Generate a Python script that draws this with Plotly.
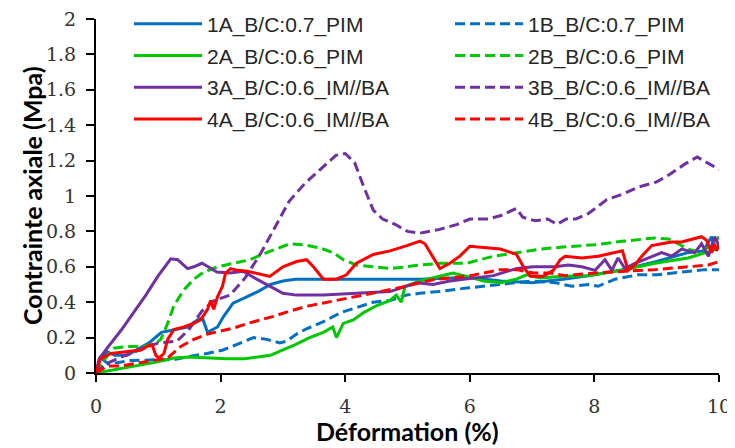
import plotly.graph_objects as go

# ---------------- data ----------------
x_1A = [0, 0.07, 0.18, 0.3, 0.5, 0.7, 0.85, 1.05, 1.25, 1.47, 1.63, 1.71, 1.79, 1.87, 1.95, 2.05, 2.2, 2.42, 2.6, 2.8,
        3.0, 3.2, 3.6, 4.2, 4.7, 5.2, 5.6, 6.0, 6.5, 7.0, 7.5, 7.9, 8.4, 9.0, 9.5, 9.75, 9.88, 9.93, 10.0]
y_1A = [0, 0.09, 0.12, 0.10, 0.10, 0.14, 0.17, 0.23, 0.245, 0.26, 0.30, 0.31, 0.23, 0.245, 0.26, 0.32, 0.395, 0.43, 0.46, 0.50,
        0.52, 0.53, 0.53, 0.527, 0.527, 0.53, 0.535, 0.54, 0.52, 0.51, 0.53, 0.55, 0.58, 0.63, 0.68, 0.69, 0.77, 0.70, 0.72]

x_1B = [0, 0.1, 0.2, 0.55, 0.97, 1.24, 1.5, 1.78, 2.04, 2.31, 2.53, 2.74, 2.95, 3.06, 3.22, 3.38, 3.65, 3.92, 4.18, 4.45,
        4.72, 4.98, 5.2, 5.5, 5.95, 6.5, 7.0, 7.37, 7.64, 7.9, 8.06, 8.33, 8.7, 9.0, 9.25, 9.5, 9.77, 10.0]
y_1B = [0, 0.08, 0.05, 0.07, 0.075, 0.075, 0.094, 0.11, 0.13, 0.17, 0.20, 0.19, 0.17, 0.18, 0.22, 0.25, 0.29, 0.34, 0.37, 0.40,
        0.41, 0.44, 0.45, 0.46, 0.48, 0.50, 0.52, 0.51, 0.49, 0.50, 0.49, 0.53, 0.555, 0.555, 0.565, 0.575, 0.584, 0.584]

x_2A = [0, 0.3, 0.6, 0.95, 1.25, 1.5, 1.84, 2.1, 2.38, 2.64, 2.8, 3.0, 3.2, 3.43, 3.65, 3.8, 3.86, 3.97, 4.13, 4.29,
        4.5, 4.72, 4.82, 4.9, 4.96, 5.05, 5.2, 5.5, 5.73, 5.95, 6.22, 6.5, 6.75, 6.91, 7.13, 7.5, 7.9, 8.44, 8.97, 9.5,
        9.88, 10.0]
y_2A = [0, 0.02, 0.04, 0.06, 0.085, 0.09, 0.085, 0.08, 0.08, 0.09, 0.10, 0.13, 0.16, 0.20, 0.23, 0.26, 0.20, 0.28, 0.30, 0.34,
        0.38, 0.41, 0.44, 0.40, 0.49, 0.50, 0.52, 0.545, 0.565, 0.546, 0.52, 0.51, 0.53, 0.555, 0.537, 0.546, 0.55, 0.58, 0.62, 0.65,
        0.69, 0.72]

x_2B = [0, 0.13, 0.29, 0.5, 0.72, 0.93, 1.04, 1.15, 1.25, 1.41, 1.57, 1.73, 1.95, 2.2, 2.47, 2.74, 2.95, 3.11, 3.33, 3.6,
        3.81, 3.97, 4.18, 4.45, 4.72, 4.98, 5.2, 5.52, 5.95, 6.38, 6.75, 7.13, 7.45, 7.64, 8.01, 8.44, 8.7, 8.97, 9.19, 9.35,
        9.5, 9.66, 9.88, 10.0]
y_2B = [0, 0.075, 0.14, 0.15, 0.15, 0.16, 0.19, 0.28, 0.38, 0.47, 0.53, 0.57, 0.60, 0.62, 0.64, 0.68, 0.706, 0.73, 0.725, 0.706,
        0.68, 0.64, 0.61, 0.60, 0.59, 0.60, 0.61, 0.62, 0.62, 0.66, 0.68, 0.70, 0.71, 0.716, 0.725, 0.744, 0.753, 0.763, 0.757, 0.73,
        0.70, 0.685, 0.716, 0.77]

x_3A = [0, 0.05, 0.2, 0.4, 0.6, 0.8, 1.0, 1.1, 1.2, 1.31, 1.47, 1.57, 1.7, 1.8, 1.94, 2.15, 2.36, 2.58, 2.79, 3.0,
        3.22, 3.65, 4.18, 4.72, 5.15, 5.41, 5.68, 5.95, 6.38, 6.65, 6.76, 7.02, 7.37, 7.58, 7.8, 8.01, 8.17, 8.28, 8.38, 8.49,
        8.65, 8.87, 9.08, 9.24, 9.4, 9.61, 9.72, 9.83, 9.93, 10.0]
y_3A = [0, 0.08, 0.15, 0.24, 0.34, 0.44, 0.55, 0.60, 0.645, 0.64, 0.59, 0.60, 0.62, 0.60, 0.57, 0.565, 0.575, 0.53, 0.49, 0.45,
        0.44, 0.44, 0.45, 0.46, 0.51, 0.50, 0.52, 0.53, 0.55, 0.58, 0.59, 0.60, 0.60, 0.61, 0.60, 0.58, 0.64, 0.58, 0.65, 0.59,
        0.62, 0.65, 0.68, 0.66, 0.70, 0.68, 0.73, 0.66, 0.77, 0.72]

x_3B = [0, 0.15, 0.4, 0.7, 1.0, 1.3, 1.5, 1.7, 1.9, 2.15, 2.4, 2.65, 2.9, 3.1, 3.35, 3.6, 3.85, 4.0, 4.15, 4.3,
        4.45, 4.6, 4.8, 5.0, 5.2, 5.5, 5.8, 6.0, 6.3, 6.5, 6.75, 6.85, 7.05, 7.25, 7.4, 7.55, 7.7, 7.9, 8.2, 8.45,
        8.7, 9.0, 9.2, 9.45, 9.65, 9.8, 10.0]
y_3B = [0, 0.05, 0.09, 0.13, 0.17, 0.18, 0.25, 0.35, 0.41, 0.44, 0.54, 0.68, 0.84, 0.97, 1.07, 1.15, 1.23, 1.24, 1.19, 1.05,
        0.92, 0.87, 0.84, 0.80, 0.79, 0.81, 0.84, 0.87, 0.87, 0.89, 0.93, 0.88, 0.86, 0.87, 0.84, 0.87, 0.87, 0.90, 0.98, 1.01,
        1.05, 1.08, 1.12, 1.18, 1.22, 1.19, 1.15]

x_4A = [0, 0.07, 0.24, 0.5, 0.72, 0.82, 0.9, 0.96, 1.01, 1.09, 1.15, 1.25, 1.41, 1.57, 1.68, 1.79, 1.84, 1.89, 1.95, 2.03,
        2.08, 2.16, 2.27, 2.43, 2.64, 2.79, 3.0, 3.22, 3.38, 3.49, 3.65, 3.86, 4.02, 4.18, 4.45, 4.72, 4.99, 5.2, 5.28, 5.41,
        5.52, 5.68, 5.84, 6.0, 6.27, 6.49, 6.75, 6.86, 6.97, 7.18, 7.34, 7.45, 7.53, 7.8, 8.06, 8.33, 8.45, 8.54, 8.65, 8.76,
        8.92, 9.08, 9.24, 9.4, 9.61, 9.72, 9.8, 9.88, 9.93, 9.96, 10.0]
y_4A = [0, 0.08, 0.11, 0.12, 0.13, 0.15, 0.16, 0.10, 0.085, 0.11, 0.19, 0.245, 0.26, 0.28, 0.30, 0.36, 0.41, 0.36, 0.43, 0.49,
        0.565, 0.59, 0.58, 0.575, 0.56, 0.546, 0.60, 0.63, 0.64, 0.60, 0.53, 0.53, 0.555, 0.62, 0.67, 0.69, 0.72, 0.745, 0.73, 0.65,
        0.59, 0.62, 0.66, 0.716, 0.706, 0.70, 0.67, 0.60, 0.546, 0.546, 0.58, 0.64, 0.66, 0.65, 0.66, 0.68, 0.69, 0.58, 0.61, 0.66,
        0.72, 0.73, 0.74, 0.74, 0.76, 0.77, 0.75, 0.68, 0.73, 0.69, 0.72]

x_4B = [0, 0.18, 0.4, 0.66, 0.93, 1.15, 1.36, 1.57, 1.79, 2.0, 2.22, 2.43, 2.64, 2.85, 3.11, 3.38, 3.65, 3.92, 4.18, 4.45,
        4.72, 4.98, 5.2, 5.41, 5.68, 5.95, 6.22, 6.49, 6.75, 7.02, 7.29, 7.53, 7.69, 8.01, 8.44, 8.97, 9.5, 9.83, 10.0]
y_4B = [0, 0.04, 0.04, 0.056, 0.075, 0.085, 0.15, 0.19, 0.22, 0.235, 0.255, 0.28, 0.30, 0.32, 0.35, 0.377, 0.395, 0.414, 0.43, 0.45,
        0.47, 0.49, 0.51, 0.527, 0.537, 0.546, 0.565, 0.584, 0.584, 0.565, 0.565, 0.55, 0.555, 0.565, 0.574, 0.584, 0.60, 0.61, 0.63]

names = ["1A_B/C:0.7_PIM", "1B_B/C:0.7_PIM", "2A_B/C:0.6_PIM", "2B_B/C:0.6_PIM",
         "3A_B/C:0.6_IM//BA", "3B_B/C:0.6_IM//BA", "4A_B/C:0.6_IM//BA", "4B_B/C:0.6_IM//BA"]
x_tick_vals = [0, 2, 4, 6, 8, 10]
y_tick_vals = [0, 0.2, 0.4, 0.6, 0.8, 1.0, 1.2, 1.4, 1.6, 1.8, 2.0]
y_tick_text = ["0", "0.2", "0.4", "0.6", "0.8", "1", "1.2", "1.4", "1.6", "1.8", "2"]
x_title = "Déformation (%)"
y_title = "Contrainte axiale (Mpa)"

BLUE, GREEN, PURPLE, RED = "#0070C0", "#00C800", "#7030A0", "#FF0000"
DASH = "10px,5px"

series = [
    (names[0], x_1A, y_1A, BLUE, "solid", "legend"),
    (names[2], x_2A, y_2A, GREEN, "solid", "legend"),
    (names[4], x_3A, y_3A, PURPLE, "solid", "legend"),
    (names[6], x_4A, y_4A, RED, "solid", "legend"),
    (names[1], x_1B, y_1B, BLUE, DASH, "legend2"),
    (names[3], x_2B, y_2B, GREEN, DASH, "legend2"),
    (names[5], x_3B, y_3B, PURPLE, DASH, "legend2"),
    (names[7], x_4B, y_4B, RED, DASH, "legend2"),
]

draw_order = [0, 4, 1, 5, 2, 6, 3, 7]

fig = go.Figure()
for i in draw_order:
    name, xs, ys, col, dash, leg = series[i]
    fig.add_trace(go.Scatter(
        x=xs, y=ys, mode="lines", name=name,
        line=dict(color=col, width=3, dash=dash),
        legend=leg, legendgroup=name, legendrank=i,
    ))

# page body has an 8px margin: figure is sized so the plot lands where the reference has it
W, H = 727, 440
ML, MR, MT, MB = 88, 16, 11, 75
plot_w = W - ML - MR
plot_h = H - MT - MB

legend_common = dict(
    font=dict(family="Liberation Sans, Arial, sans-serif", size=21, color="#262626"),
    bgcolor="rgba(0,0,0,0)", borderwidth=0,
    itemwidth=68, traceorder="grouped", tracegroupgap=1.5,
    orientation="v", xref="paper", yref="paper",
    xanchor="left", yanchor="top",
)
leg_top = 1 + (MT + 4.5) / plot_h

title_font = dict(family="Lato, Calibri, sans-serif", size=25, color="black")
tick_font = dict(family="DejaVu Serif, Cambria, serif", size=19, color="#333333")

fig.update_layout(
    width=W, height=H,
    margin=dict(l=ML, r=MR, t=MT, b=MB, autoexpand=False),
    paper_bgcolor="white", plot_bgcolor="white",
    showlegend=True,
    legend=dict(x=(121 - ML) / plot_w, y=leg_top, **legend_common),
    legend2=dict(x=(442 - ML) / plot_w, y=leg_top, **legend_common),
    xaxis=dict(
        range=[0, 10], tickvals=x_tick_vals, ticks="outside", ticklen=7, tickwidth=2,
        tickcolor="black", showline=True, linecolor="black", linewidth=2,
        showgrid=False, zeroline=False, tickfont=tick_font, ticklabelstandoff=8,
        ticklabeloverflow="allow",
    ),
    yaxis=dict(
        range=[0, 2], tickvals=y_tick_vals, ticktext=y_tick_text, ticks="outside", ticklen=8,
        tickwidth=2, tickcolor="black", showline=True, linecolor="black", linewidth=2,
        showgrid=False, zeroline=False, tickfont=tick_font, ticklabelstandoff=6,
        ticklabeloverflow="allow",
    ),
    annotations=[
        dict(text="<b>" + x_title + "</b>", xref="paper", yref="paper",
             x=0.5, y=(plot_h + MT - 423) / plot_h, xanchor="center", yanchor="middle",
             showarrow=False, font=title_font),
        dict(text="<b>" + y_title + "</b>", xref="paper", yref="paper",
             x=(24 - ML) / plot_w, y=0.5, xanchor="center", yanchor="middle",
             textangle=-90, showarrow=False, font=title_font),
    ],
)

fig.write_html("out.html")
